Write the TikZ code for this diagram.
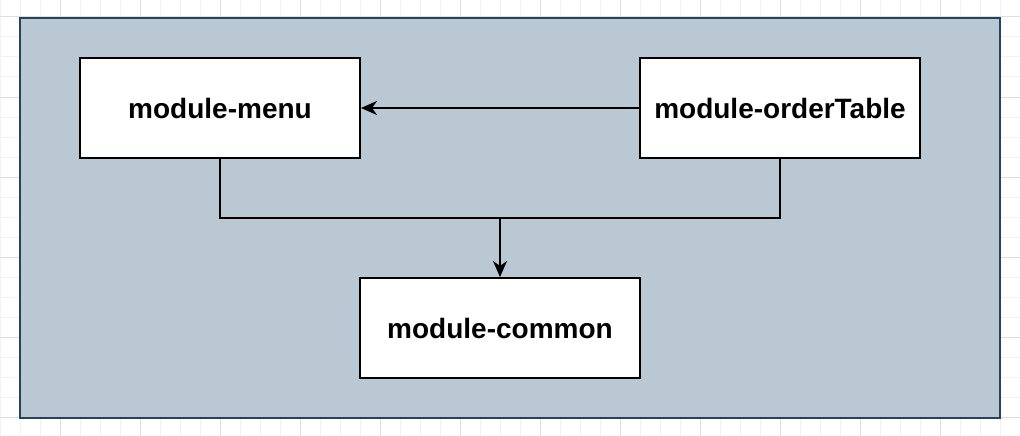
\documentclass[tikz,border=0pt]{standalone}
\usepackage{fontspec}
\setmainfont{Liberation Sans}
\usetikzlibrary{arrows.meta}
\definecolor{panelfill}{HTML}{BAC8D3}
\definecolor{paneldraw}{HTML}{23445D}
\definecolor{gridminor}{HTML}{F2F2F2}
\definecolor{gridmajor}{HTML}{DEDEDE}
\tikzset{
  modbox/.style={draw=black, fill=white, line width=2pt, minimum width=280pt, minimum height=100pt, inner sep=0pt, font=\fontsize{28}{32}\selectfont\bfseries},
  conn/.style={draw=black, line width=2pt, -{Stealth[length=16pt,width=14pt,inset=5pt]}},
  plain/.style={draw=black, line width=2pt},
}
\begin{document}
\begin{tikzpicture}[x=1pt,y=-1pt]
\useasboundingbox (0,0) rectangle (1020,436);
\fill[white] (0,0) rectangle (1020,436);
% grid
\foreach \x in {0,20,...,1020} {\draw[gridminor, line width=1pt] (\x,0) -- (\x,436);}
\foreach \y in {-3,17,...,437} {\draw[gridminor, line width=1pt] (0,\y) -- (1020,\y);}
\foreach \x in {60,140,...,1020} {\draw[gridmajor, line width=1pt] (\x,0) -- (\x,436);}
\foreach \y in {17,97,...,437} {\draw[gridmajor, line width=1pt] (0,\y) -- (1020,\y);}
% panel
\draw[fill=panelfill, draw=paneldraw, line width=2pt] (20,18) rectangle (1000,418);
% modules
\node[modbox] (menu) at (220,108) {module-menu};
\node[modbox] (order) at (780,108) {module-orderTable};
\node[modbox] (common) at (500,328) {module-common};
\coordinate (join) at (500,218);
% connectors
\draw[conn] (order.west) -- (menu.east);
\draw[plain] (menu.south) |- (join);
\draw[plain] (order.south) |- (join);
\draw[conn] (join) -- (common.north);
\end{tikzpicture}
\end{document}
